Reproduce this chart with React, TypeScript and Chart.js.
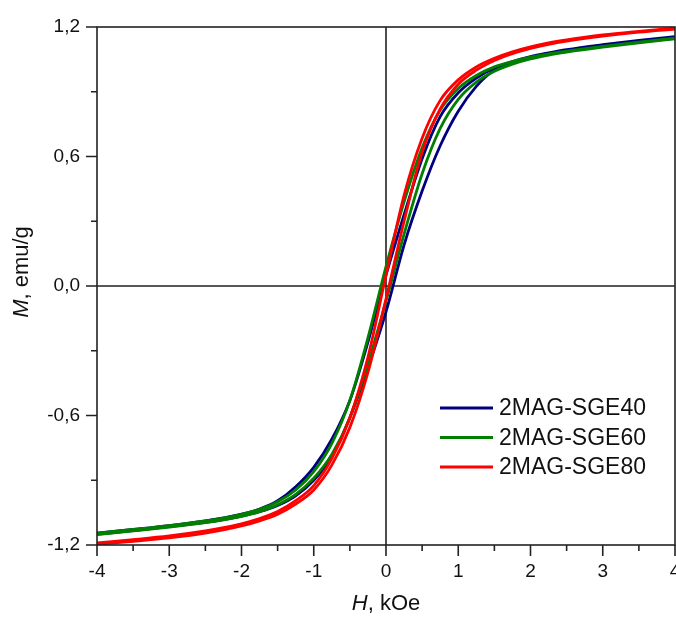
import React, { useEffect, useRef } from "react";
import { Chart, registerables } from "chart.js";

Chart.register(...registerables);

// Field H (kOe), shared grid for every branch
const H = [-4, -3.5, -3, -2.5, -2.25, -2, -1.75, -1.5, -1.25, -1, -0.75, -0.5, -0.25, 0, 0.25, 0.5, 0.75, 1, 1.25, 1.5, 1.75, 2, 2.25, 2.5, 3, 3.5, 4];

// M (emu/g), descending-field (upper) and ascending-field (lower) branches
const sge40Upper = [-1.145, -1.128, -1.11, -1.088, -1.074, -1.057, -1.033, -0.995, -0.93, -0.84, -0.71, -0.53, -0.26, 0.05, 0.33, 0.59, 0.785, 0.895, 0.963, 1.01, 1.04, 1.063, 1.08, 1.095, 1.118, 1.138, 1.155];
const sge40Lower = [-1.15, -1.133, -1.115, -1.095, -1.082, -1.066, -1.046, -1.017, -0.972, -0.9, -0.79, -0.61, -0.38, -0.12, 0.19, 0.44, 0.65, 0.81, 0.925, 1.0, 1.035, 1.058, 1.076, 1.091, 1.114, 1.132, 1.15];
const sge60Upper = [-1.145, -1.128, -1.11, -1.088, -1.075, -1.058, -1.035, -1.0, -0.945, -0.86, -0.73, -0.53, -0.24, 0.09, 0.39, 0.64, 0.815, 0.915, 0.975, 1.015, 1.04, 1.06, 1.075, 1.088, 1.11, 1.13, 1.148];
const sge60Lower = [-1.152, -1.135, -1.117, -1.096, -1.083, -1.067, -1.045, -1.013, -0.965, -0.89, -0.78, -0.61, -0.36, -0.07, 0.24, 0.52, 0.73, 0.865, 0.945, 0.995, 1.028, 1.052, 1.07, 1.084, 1.107, 1.127, 1.145];
const sge80Upper = [-1.19, -1.175, -1.158, -1.135, -1.12, -1.102, -1.078, -1.045, -0.995, -0.925, -0.8, -0.61, -0.33, 0.05, 0.42, 0.685, 0.86, 0.955, 1.015, 1.055, 1.085, 1.108, 1.126, 1.14, 1.163, 1.18, 1.195];
const sge80Lower = [-1.197, -1.183, -1.167, -1.145, -1.13, -1.112, -1.088, -1.057, -1.01, -0.945, -0.83, -0.655, -0.4, -0.06, 0.3, 0.62, 0.82, 0.935, 1.0, 1.045, 1.077, 1.101, 1.12, 1.135, 1.158, 1.176, 1.19];

const seriesNames = ["2MAG-SGE40", "2MAG-SGE60", "2MAG-SGE80"];
const seriesColors = ["#00007f", "#007f00", "#ff0000"];

const FONT = "'Liberation Sans', Arial, sans-serif";
const AXIS = "#222222";

const pts = (ys: number[]) => H.map((x, i) => ({ x, y: ys[i] }));

const decor = {
  id: "decor",
  beforeDatasetsDraw(chart: any) {
    const { ctx, chartArea: a, scales } = chart;
    const x0 = scales.x.getPixelForValue(0);
    const y0 = scales.y.getPixelForValue(0);
    ctx.save();
    ctx.strokeStyle = AXIS;
    ctx.lineWidth = 1.6;
    ctx.beginPath();
    ctx.moveTo(x0, a.top);
    ctx.lineTo(x0, a.bottom);
    ctx.moveTo(a.left, y0);
    ctx.lineTo(a.right, y0);
    ctx.stroke();
    ctx.restore();
  },
  afterDraw(chart: any) {
    const { ctx, chartArea: a, scales } = chart;
    ctx.save();
    // frame
    ctx.strokeStyle = AXIS;
    ctx.lineWidth = 1.6;
    ctx.strokeRect(a.left, a.top, a.right - a.left, a.bottom - a.top);
    // ticks
    ctx.beginPath();
    scales.y.ticks.forEach((t: any) => {
      const major = Math.abs(Math.round(t.value / 0.3)) % 2 === 0;
      const p = scales.y.getPixelForValue(t.value);
      ctx.moveTo(a.left, p);
      ctx.lineTo(a.left - (major ? 11 : 6), p);
    });
    scales.x.ticks.forEach((t: any) => {
      const major = Math.abs(t.value - Math.round(t.value)) < 1e-6;
      const p = scales.x.getPixelForValue(t.value);
      ctx.moveTo(p, a.bottom);
      ctx.lineTo(p, a.bottom + (major ? 11 : 6));
    });
    ctx.stroke();

    // axis titles
    ctx.fillStyle = "#111";
    ctx.textBaseline = "middle";
    const drawTitle = (ital: string, rest: string, cx: number, cy: number, rot: number) => {
      ctx.save();
      ctx.translate(cx, cy);
      ctx.rotate(rot);
      ctx.font = `italic 22px ${FONT}`;
      const w1 = ctx.measureText(ital).width;
      ctx.font = `22px ${FONT}`;
      const w2 = ctx.measureText(rest).width;
      const start = -(w1 + w2) / 2;
      ctx.textAlign = "left";
      ctx.font = `italic 22px ${FONT}`;
      ctx.fillText(ital, start, 0);
      ctx.font = `22px ${FONT}`;
      ctx.fillText(rest, start + w1, 0);
      ctx.restore();
    };
    drawTitle("M", ", emu/g", 22, 272, -Math.PI / 2);
    drawTitle("H", ", kOe", (a.left + a.right) / 2, 604, 0);

    // legend
    const lx = a.left + 343;
    const ly = a.top + 381;
    ctx.font = `23px ${FONT}`;
    ctx.textAlign = "left";
    seriesNames.forEach((name, i) => {
      const y = ly + i * 29.5;
      ctx.strokeStyle = seriesColors[i];
      ctx.lineWidth = 3;
      ctx.beginPath();
      ctx.moveTo(lx, y);
      ctx.lineTo(lx + 53, y);
      ctx.stroke();
      ctx.fillStyle = "#111";
      ctx.fillText(name, lx + 59, y + 1);
    });
    ctx.restore();
  },
};

export default function App() {
  const ref = useRef<HTMLCanvasElement>(null);
  useEffect(() => {
    if (!ref.current) return;
    const branch = (ys: number[], color: string, order: number) => ({
      data: pts(ys),
      showLine: true,
      borderColor: color,
      backgroundColor: color,
      borderWidth: 2.8,
      pointRadius: 0,
      cubicInterpolationMode: "monotone" as const,
      order,
    });
    const chart = new Chart(ref.current, {
      type: "scatter",
      data: {
        datasets: [
          branch(sge40Upper, seriesColors[0], 3),
          branch(sge40Lower, seriesColors[0], 3),
          branch(sge60Upper, seriesColors[1], 2),
          branch(sge60Lower, seriesColors[1], 2),
          branch(sge80Upper, seriesColors[2], 1),
          branch(sge80Lower, seriesColors[2], 1),
        ],
      },
      options: {
        animation: false,
        responsive: false,
        layout: { padding: { top: 27, right: 1, left: 0, bottom: 0 } },
        plugins: { legend: { display: false }, tooltip: { enabled: false } },
        scales: {
          x: {
            type: "linear",
            min: -4,
            max: 4,
            grid: { display: false, drawTicks: false },
            border: { display: false },
            ticks: {
              stepSize: 0.5,
              padding: 15,
              color: "#111",
              font: { family: FONT, size: 19 },
              maxRotation: 0,
              autoSkip: false,
              callback: (v: any) => (Math.abs(v - Math.round(v)) < 1e-6 ? String(Math.round(v)) : ""),
            },
            afterFit: (s: any) => {
              s.height = 74;
              s.paddingLeft = 0;
              s.paddingRight = 0;
            },
          },
          y: {
            type: "linear",
            min: -1.2,
            max: 1.2,
            grid: { display: false, drawTicks: false },
            border: { display: false },
            ticks: {
              stepSize: 0.3,
              padding: 17,
              color: "#111",
              font: { family: FONT, size: 19 },
              autoSkip: false,
              callback: (v: any) => {
                const k = Math.round(v / 0.3);
                if (Math.abs(k) % 2 !== 0) return "";
                return (k * 0.3).toFixed(1).replace(".", ",").replace("-0,0", "0,0");
              },
            },
            afterFit: (s: any) => {
              s.width = 97;
              s.paddingTop = 0;
              s.paddingBottom = 0;
            },
          },
        },
      },
      plugins: [decor],
    });
    return () => chart.destroy();
  }, []);
  return (
    <div style={{ position: "fixed", left: 0, top: 0, width: 676, height: 619, background: "#fff" }}>
      <canvas ref={ref} width={676} height={619} />
    </div>
  );
}
